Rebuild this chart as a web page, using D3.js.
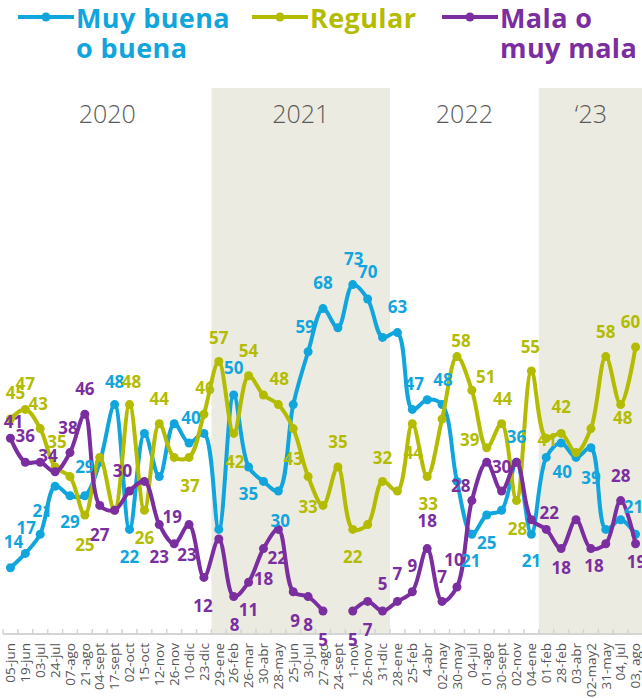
<!DOCTYPE html>
<html>
<head>
<meta charset="utf-8">
<title>Evaluación</title>
<script src="https://d3js.org/d3.v7.min.js"></script>
<style>
  body { margin: 0; background: #fff; }
  svg { display: block; }
</style>
</head>
<body>
<script>
var fechas = ["05-jun", "19-jun", "03-jul", "24-jul", "07-ago", "21-ago", "04-sept", "17-sept", "02-oct", "15-oct",
  "12-nov", "26-nov", "10-dic", "23-dic", "29-ene", "26-feb", "26-mar", "30-abr", "28-may", "25-jun",
  "30-jul", "27-ago", "24-sept", "1-nov", "26-nov", "31-dic", "28-ene", "25-feb", "4-abr", "02-may",
  "30-may", "04-jul", "01-ago", "30-sept", "02-nov", "04-ene", "01-feb", "28-feb", "03-abr", "02-may2",
  "31-may", "04, jul", "03, ago"];

var muyBuena = [14, 17, 21, 31, 29, 29, 36, 48, 22, 42, 33, 44, 40, 42, 22, 50, 35, 32, 30, 48,
  59, 68, 64, 73, 70, 62, 63, 47, 49, 48, 32, 21, 25, 26, 36, 21, 37, 40, 37, 39, 22, 24, 21];
var regular = [45, 47, 43, 35, 33, 25, 37, 26, 48, 26, 44, 37, 37, 46, 57, 42, 54, 50, 48, 43,
  33, 27, 35, 22, 23, 32, 30, 44, 33, 45, 58, 51, 39, 44, 28, 55, 41, 42, 38, 43, 58, 48, 60];
var mala = [41, 36, 36, 34, 38, 46, 27, 26, 30, 32, 23, 19, 23, 12, 20, 8, 11, 18, 22, 9,
  8, 5, null, 5, 7, 5, 7, 9, 18, 7, 10, 28, 36, 30, 36, 24, 22, 18, 24, 18, 19, 28, 19];

var anios = ["2020", "2021", "2022", "\u201823"];
var anioInicio = [0, 14, 26, 36];
var anioSombreado = [false, true, false, true];

// donde va cada etiqueta de valor: [indice, dx, dy]
var etqBuena = [[0, 3, -26], [1, 1, -25], [2, 2, -23], [4, 0, 26], [5, 0, -29], [7, 0, -23], [8, 0, 28],
  [12, 2, -25], [15, 0, -27], [16, 0, 27], [18, 2, 30], [20, -3, -25], [21, 0, -26], [23, 1, -26],
  [24, 0, -27], [26, 0, -26], [27, 2, -25], [29, 1, -25], [31, -1, 27], [32, 0, 28], [34, 0, -25],
  [35, 0, 27], [37, 1, 29], [39, 0, 30], [42, -2, -27]];
var etqRegular = [[0, 5, -26], [1, 0, -25], [2, -2, -25], [3, 2, -25], [5, 0, 30], [8, 2, -23],
  [9, 0, 28], [10, 0, -25], [12, 1, 29], [13, 1, -26], [14, 0, -23], [15, 1, 29], [16, 0, -25],
  [18, 1, -26], [19, 0, 30], [20, 0, 30], [22, 0, -25], [23, 0, 28], [25, 0, -23], [27, 1, 29],
  [28, 1, 27], [30, 4, -16], [31, 14, -13], [32, -17, -8], [33, 1, -25], [34, 1, 28], [35, -1, -24],
  [36, 1, 2], [37, 0, -26], [40, 0, -25], [41, 2, 13], [42, -5, -25]];
var etqMala = [[0, 3, -16], [1, 0, -26], [3, -7, -16], [4, -2, -25], [5, 0, -25], [6, 0, 30],
  [8, -7, -20], [10, 0, 32], [11, -2, -27], [12, -2, 30], [13, -1, 29], [15, 1, 28], [16, 0, 28],
  [17, 0, 30], [18, -1, 29], [19, 2, 29], [20, 0, 28], [21, 0, 29], [23, 0, 29], [24, 0, 29],
  [25, 0, -27], [26, 0, -27], [27, 0, -26], [28, 0, -28], [29, 0, -24], [30, -3, -27], [31, -11, -15],
  [33, 0, -24], [36, 3, -16], [37, 0, 19], [39, 3, 17], [41, 0, -25], [42, 1, 18]];

var series = [
  { nombre: ["Muy buena", "o buena"], valores: muyBuena, color: "#11a5dd", etq: etqBuena, lx: 18 },
  { nombre: ["Regular"], valores: regular, color: "#b3bc00", etq: etqRegular, lx: 252 },
  { nombre: ["Mala o", "muy mala"], valores: mala, color: "#7b2e9f", etq: etqMala, lx: 442 }
];

var width = 642, height = 698;
var svg = d3.select("body").append("svg")
  .attr("width", width)
  .attr("height", height)
  .style("font-family", "'Open Sans', sans-serif");

var x = d3.scaleBand()
  .domain(d3.range(fechas.length))
  .range([3, 643]);
var y = d3.scaleLinear()
  .domain([0, 100])
  .range([635, 155]);
var baseY = 634;

function cx(i) { return x(i) + x.bandwidth() / 2; }

// bandas de años
anios.forEach(function (a, k) {
  var x0 = x(anioInicio[k]);
  var x1 = k < anios.length - 1 ? x(anioInicio[k + 1]) : x.range()[1];
  if (anioSombreado[k]) {
    svg.append("rect")
      .attr("x", x0).attr("y", 88)
      .attr("width", x1 - x0).attr("height", baseY - 88)
      .attr("fill", "#ecebe1");
  }
  svg.append("text")
    .attr("x", (x0 + x1) / 2).attr("y", 123)
    .attr("text-anchor", "middle")
    .attr("fill", "#5a5a5a")
    .style("font-size", "25px")
    .style("font-weight", 300)
    .text(a);
});

// eje x
var ejeX = svg.append("g")
  .attr("transform", "translate(0," + baseY + ")")
  .call(d3.axisBottom(x).tickSize(0).tickFormat(function (i) { return fechas[i]; }));
ejeX.select(".domain").remove();
ejeX.selectAll("text")
  .attr("transform", "rotate(-90)")
  .attr("x", -9).attr("y", 0).attr("dy", "0.35em")
  .attr("text-anchor", "end")
  .attr("fill", "#555")
  .style("font-size", "13.5px")
  .style("font-family", "'Open Sans', sans-serif");

svg.append("line")
  .attr("x1", x.range()[0]).attr("x2", x.range()[1])
  .attr("y1", baseY).attr("y2", baseY)
  .attr("stroke", "#d4d4d4").attr("stroke-width", 2);
svg.append("g").selectAll("line")
  .data(d3.range(fechas.length + 1))
  .join("line")
  .attr("x1", function (k) { return x.range()[0] + k * x.step(); })
  .attr("x2", function (k) { return x.range()[0] + k * x.step(); })
  .attr("y1", baseY - 5).attr("y2", baseY)
  .attr("stroke", "#d4d4d4").attr("stroke-width", 1.5);

// líneas
var linea = d3.line()
  .defined(function (d) { return d != null; })
  .x(function (d, i) { return cx(i); })
  .y(function (d) { return y(d); })
  .curve(d3.curveCatmullRom.alpha(0.5));

series.forEach(function (s) {
  var g = svg.append("g");
  g.append("path")
    .datum(s.valores)
    .attr("d", linea)
    .attr("fill", "none")
    .attr("stroke", s.color)
    .attr("stroke-width", 4)
    .attr("stroke-linejoin", "round");
  g.selectAll("circle")
    .data(s.valores.map(function (v, i) { return { v: v, i: i }; }).filter(function (d) { return d.v != null; }))
    .join("circle")
    .attr("cx", function (d) { return cx(d.i); })
    .attr("cy", function (d) { return y(d.v); })
    .attr("r", 4.5)
    .attr("fill", s.color);
});

// etiquetas de valor
series.forEach(function (s) {
  svg.append("g").selectAll("text")
    .data(s.etq)
    .join("text")
    .attr("x", function (e) { return cx(e[0]) + e[1]; })
    .attr("y", function (e) { return y(s.valores[e[0]]) + e[2]; })
    .attr("dy", "0.35em")
    .attr("text-anchor", "middle")
    .attr("fill", s.color)
    .style("font-size", "17px")
    .style("font-weight", 700)
    .text(function (e) { return s.valores[e[0]]; });
});

// leyenda
series.forEach(function (s) {
  var g = svg.append("g");
  g.append("line")
    .attr("x1", s.lx).attr("x2", s.lx + 56)
    .attr("y1", 17).attr("y2", 17)
    .attr("stroke", s.color).attr("stroke-width", 4);
  g.append("circle")
    .attr("cx", s.lx + 28).attr("cy", 17).attr("r", 4.5)
    .attr("fill", s.color);
  g.selectAll("text")
    .data(s.nombre)
    .join("text")
    .attr("x", s.lx + 58)
    .attr("y", function (t, k) { return 28 + k * 30; })
    .attr("fill", s.color)
    .style("font-size", "27px")
    .style("font-weight", 700)
    .style("letter-spacing", "0.4px")
    .text(function (t) { return t; });
});
</script>
</body>
</html>
